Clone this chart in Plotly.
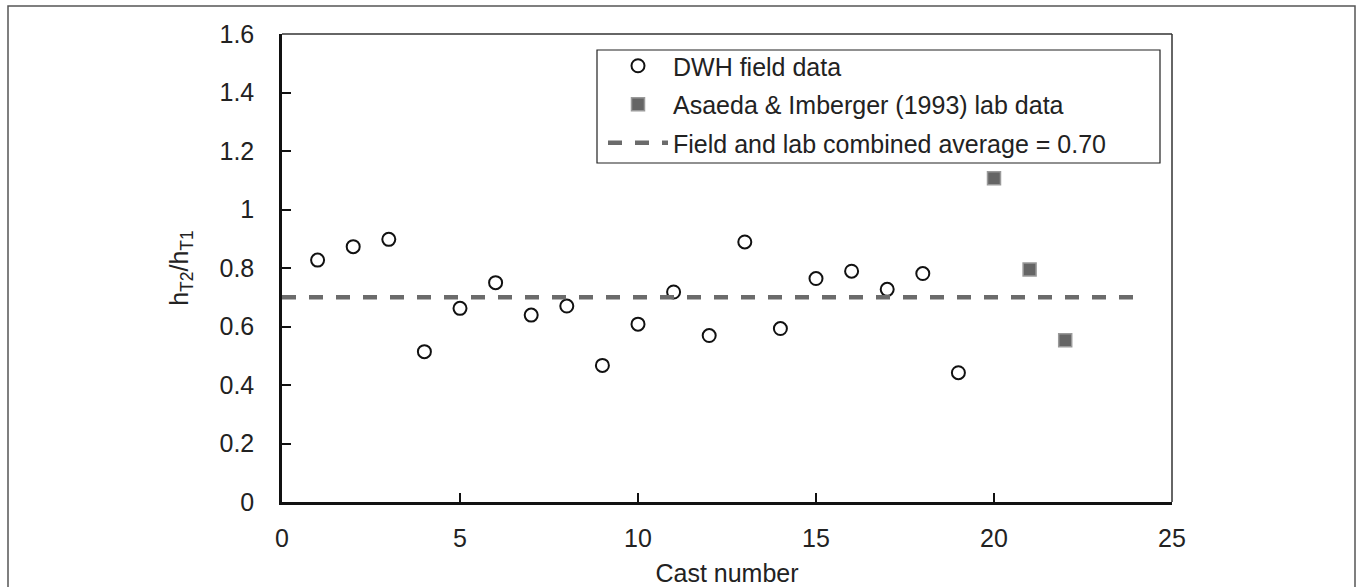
import plotly.graph_objects as go

# Data
field_cast = list(range(1, 20))
field_ratio = [0.827, 0.873, 0.898, 0.514, 0.662, 0.750, 0.639, 0.670, 0.467, 0.608,
               0.718, 0.569, 0.889, 0.593, 0.764, 0.789, 0.727, 0.781, 0.442]
lab_cast = [20, 21, 22]
lab_ratio = [1.107, 0.795, 0.553]
avg_x = [0, 24]
avg_value = 0.70
x_ticks = [0, 5, 10, 15, 20, 25]
y_ticks = [0, 0.2, 0.4, 0.6, 0.8, 1.0, 1.2, 1.4, 1.6]

FONT = "Liberation Sans, Arial, sans-serif"
FS = 25

fig = go.Figure()
fig.add_trace(go.Scatter(
    x=field_cast, y=field_ratio, mode="markers", name="DWH field data", legendgroup="a",
    marker=dict(symbol="circle-open", size=13, color="#111111", line=dict(width=2, color="#111111")),
))
fig.add_trace(go.Scatter(
    x=lab_cast, y=lab_ratio, mode="markers", name="Asaeda & Imberger (1993) lab data", legendgroup="b",
    marker=dict(symbol="square", size=13, color="#656565", line=dict(width=1.5, color="#9a9a9a")),
))
fig.add_trace(go.Scatter(
    x=avg_x, y=[avg_value] * len(avg_x), mode="lines", legendgroup="c",
    name="Field and lab combined average = 0.70",
    line=dict(color="#6b6b6b", width=4.5, dash="14px,13px"),
))

L, R, T, B = 282, 1172, 34, 502
W, H = 1357, 587


def px(xp):
    return (xp - L) / (R - L)


def py(yp):
    return (B - yp) / (B - T)


shapes = [
    # outer frame
    dict(type="rect", xref="paper", yref="paper", x0=px(8), x1=px(1355), y0=py(592), y1=py(6),
         line=dict(color="#555555", width=1.5), layer="below"),
    # top and right plot borders
    dict(type="line", xref="paper", yref="paper", x0=0, x1=1, y0=1, y1=1,
         line=dict(color="#333333", width=1.5)),
    dict(type="line", xref="paper", yref="paper", x0=1, x1=1, y0=0, y1=1,
         line=dict(color="#333333", width=1.5)),
    # legend box
    dict(type="rect", xref="paper", yref="paper", x0=px(597), x1=px(1160), y0=py(163), y1=py(50),
         line=dict(color="#222222", width=1.2)),
]

fig.update_layout(
    width=W, height=H,
    margin=dict(l=L, r=W - R, t=T, b=H - B),
    paper_bgcolor="white", plot_bgcolor="white",
    font=dict(family=FONT, size=FS, color="#222222"),
    showlegend=True,
    legend=dict(
        x=px(603), y=py(43), xanchor="left", yanchor="top",
        bgcolor="rgba(0,0,0,0)", borderwidth=0,
        font=dict(family=FONT, size=FS, color="#222222"),
        tracegroupgap=3, itemwidth=60, traceorder="grouped",
    ),
    shapes=shapes,
)

fig.update_xaxes(
    range=[0, 25], tickvals=x_ticks, ticktext=[str(v) for v in x_ticks],
    showgrid=False, zeroline=False, showline=True, linecolor="#111111", linewidth=2.5,
    ticks="inside", ticklen=9, tickwidth=1.5, tickcolor="#111111",
    ticklabelstandoff=12,
    title=dict(text="Cast number", font=dict(family=FONT, size=FS, color="#222222"), standoff=14),
    automargin=False,
)
fig.update_yaxes(
    range=[0, 1.6], tickvals=y_ticks, ticktext=["0", "0.2", "0.4", "0.6", "0.8", "1", "1.2", "1.4", "1.6"],
    showgrid=False, zeroline=False, showline=True, linecolor="#111111", linewidth=2.5,
    ticks="inside", ticklen=9, tickwidth=1.5, tickcolor="#111111",
    ticklabelstandoff=20,
    title=dict(text="h<sub>T2</sub>/h<sub>T1</sub>", font=dict(family=FONT, size=FS, color="#222222"), standoff=24),
    automargin=False,
)

fig.write_html("out.html")
